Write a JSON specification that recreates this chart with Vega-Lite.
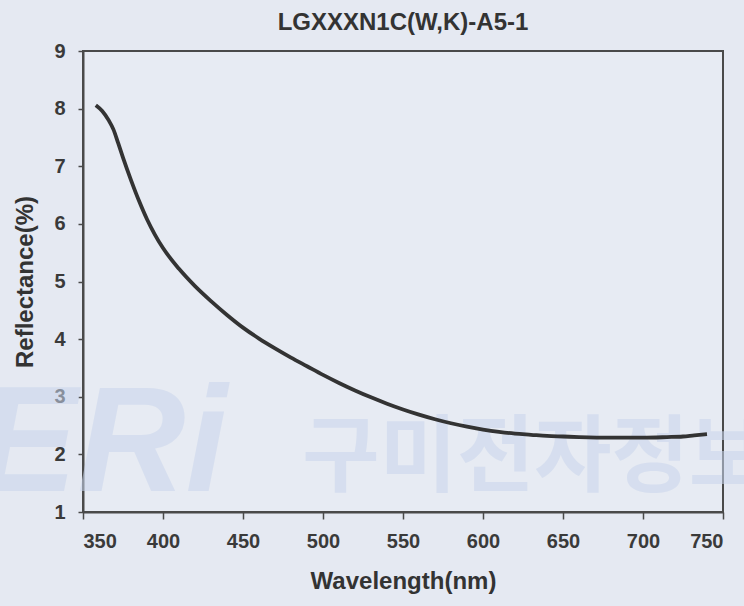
{
  "$schema": "https://vega.github.io/schema/vega-lite/v6.json",
  "autosize": "none",
  "width": 640,
  "height": 461,
  "padding": {"left": 83, "top": 51, "right": 21, "bottom": 94},
  "background": "#e5e9f2",
  "title": {
    "text": "LGXXXN1C(W,K)-A5-1",
    "font": "Liberation Sans",
    "fontSize": 24,
    "fontWeight": "bold",
    "color": "#333333",
    "offset": 6,
    "anchor": "middle"
  },
  "config": {
    "view": {"stroke": "#4a4a4a", "strokeWidth": 2, "fill": "#e7ebf3"},
    "axis": {
      "labelFont": "Liberation Sans",
      "labelFontWeight": "bold",
      "labelFontSize": 20,
      "labelColor": "#3a3a3a",
      "titleFont": "Liberation Sans",
      "titleFontWeight": "bold",
      "titleFontSize": 24,
      "titleColor": "#333333",
      "domainColor": "#4a4a4a",
      "domainWidth": 2,
      "tickColor": "#4a4a4a",
      "tickWidth": 1.5,
      "grid": false
    }
  },
  "encoding": {
    "x": {
      "type": "quantitative",
      "scale": {"domain": [350, 750], "nice": false, "zero": false},
      "axis": {"values": [350, 400, 450, 500, 550, 600, 650, 700, 750], "title": "Wavelength(nm)", "tickSize": 7, "labelPadding": 12, "titlePadding": 18}
    },
    "y": {
      "type": "quantitative",
      "scale": {"domain": [1, 9], "nice": false, "zero": false},
      "axis": {"values": [1, 2, 3, 4, 5, 6, 7, 8, 9], "title": "Reflectance(%)", "tickSize": 5, "labelPadding": 13, "titlePadding": 16}
    }
  },
  "layer": [
    {
      "data": {"values": [{"label": "구미전자정보"}]},
      "mark": {"type": "text", "font": "Noto Sans CJK KR", "fontSize": 84, "fontWeight": "bold", "color": "#c9d5ec", "opacity": 0.55, "align": "center", "baseline": "middle", "clip": false},
      "encoding": {"x": {"datum": 632}, "y": {"datum": 1.9}, "text": {"field": "label"}}
    },
    {
      "data": {"values": [{"label": "ERi"}]},
      "mark": {"type": "text", "font": "Liberation Sans", "fontSize": 150, "fontWeight": "bold", "fontStyle": "italic", "color": "#c9d5ec", "opacity": 0.55, "align": "center", "baseline": "middle", "clip": false},
      "encoding": {"x": {"datum": 362}, "y": {"datum": 2.15}, "text": {"field": "label"}}
    },
    {
      "data": {
        "values": [
          {"wavelength": 358, "reflectance": 8.06},
          {"wavelength": 362, "reflectance": 7.96},
          {"wavelength": 366, "reflectance": 7.8},
          {"wavelength": 369, "reflectance": 7.64},
          {"wavelength": 372, "reflectance": 7.4},
          {"wavelength": 375, "reflectance": 7.15},
          {"wavelength": 380, "reflectance": 6.76},
          {"wavelength": 385, "reflectance": 6.4},
          {"wavelength": 390, "reflectance": 6.08},
          {"wavelength": 395, "reflectance": 5.81},
          {"wavelength": 400, "reflectance": 5.58},
          {"wavelength": 410, "reflectance": 5.22},
          {"wavelength": 420, "reflectance": 4.92},
          {"wavelength": 430, "reflectance": 4.66},
          {"wavelength": 440, "reflectance": 4.42},
          {"wavelength": 450, "reflectance": 4.2},
          {"wavelength": 460, "reflectance": 4.01},
          {"wavelength": 470, "reflectance": 3.84},
          {"wavelength": 480, "reflectance": 3.68},
          {"wavelength": 490, "reflectance": 3.53},
          {"wavelength": 500, "reflectance": 3.38},
          {"wavelength": 510, "reflectance": 3.24},
          {"wavelength": 520, "reflectance": 3.11},
          {"wavelength": 530, "reflectance": 2.99},
          {"wavelength": 540, "reflectance": 2.88},
          {"wavelength": 550, "reflectance": 2.78},
          {"wavelength": 560, "reflectance": 2.69},
          {"wavelength": 570, "reflectance": 2.61},
          {"wavelength": 580, "reflectance": 2.54},
          {"wavelength": 590, "reflectance": 2.48},
          {"wavelength": 600, "reflectance": 2.43},
          {"wavelength": 610, "reflectance": 2.39},
          {"wavelength": 620, "reflectance": 2.36},
          {"wavelength": 630, "reflectance": 2.34},
          {"wavelength": 640, "reflectance": 2.32},
          {"wavelength": 650, "reflectance": 2.31},
          {"wavelength": 660, "reflectance": 2.3},
          {"wavelength": 680, "reflectance": 2.29},
          {"wavelength": 700, "reflectance": 2.29},
          {"wavelength": 715, "reflectance": 2.3},
          {"wavelength": 725, "reflectance": 2.31},
          {"wavelength": 732, "reflectance": 2.33},
          {"wavelength": 740, "reflectance": 2.35}
        ]
      },
      "mark": {"type": "line", "color": "#333333", "strokeWidth": 3.8, "interpolate": "monotone"},
      "encoding": {
        "x": {"field": "wavelength", "type": "quantitative"},
        "y": {"field": "reflectance", "type": "quantitative"}
      }
    }
  ]
}
